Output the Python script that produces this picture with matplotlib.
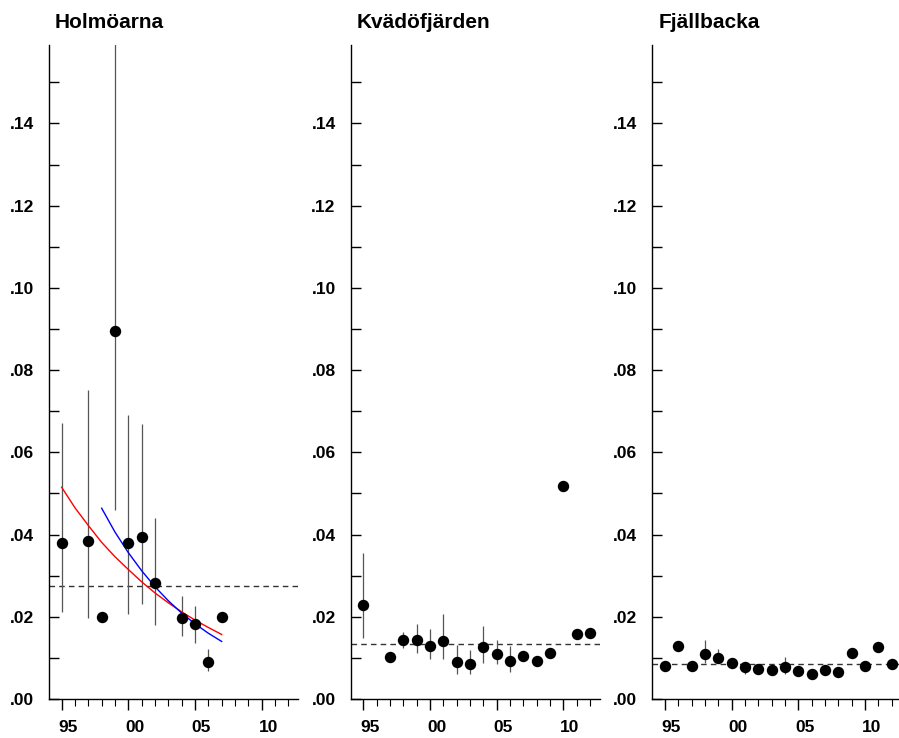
import numpy as np
import matplotlib.pyplot as plt
import matplotlib.transforms as mtransforms
from matplotlib.ticker import FixedLocator, FixedFormatter

plt.rcParams['font.family'] = ['Liberation Sans', 'DejaVu Sans']
plt.rcParams['font.weight'] = 'bold'

nan = np.nan

# Holmöarna
holm_years = [1995, 1997, 1998, 1999, 2000, 2001, 2002, 2004, 2005, 2006, 2007]
holm_vals = [0.0379, 0.0385, 0.0200, 0.0895, 0.0379, 0.0394, 0.0281, 0.0196, 0.0183, 0.0090, 0.0199]
holm_lo = [0.0211, 0.0196, nan, 0.0460, 0.0207, 0.0231, 0.0179, 0.0153, 0.0135, 0.0067, nan]
holm_hi = [0.0672, 0.0752, nan, 0.1700, 0.0690, 0.0670, 0.0440, 0.0251, 0.0225, 0.0122, nan]
holm_mean = 0.0276

# fitted trends
red_years = list(range(1995, 2008))
red_vals = [0.0515, 0.0465, 0.0422, 0.0381, 0.0346, 0.0315, 0.0285,
            0.0258, 0.0234, 0.0212, 0.0192, 0.0174, 0.0157]
blue_years = list(range(1998, 2008))
blue_vals = [0.0464, 0.0406, 0.0356, 0.0312, 0.0273, 0.0239, 0.0209,
             0.0183, 0.0160, 0.0140]

# Kvädöfjärden
kvad_years = [1995, 1997, 1998, 1999, 2000, 2001, 2002, 2003, 2004, 2005,
              2006, 2007, 2008, 2009, 2010, 2011, 2012]
kvad_vals = [0.0229, 0.0101, 0.0143, 0.0144, 0.0130, 0.0142, 0.0090, 0.0086, 0.0126, 0.0110,
             0.0093, 0.0105, 0.0093, 0.0112, 0.0517, 0.0158, 0.0160]
kvad_lo = [0.0148, nan, 0.0123, 0.0111, 0.0097, 0.0097, 0.0061, 0.0060, 0.0088, 0.0084,
           0.0065, nan, nan, nan, nan, nan, nan]
kvad_hi = [0.0356, nan, 0.0164, 0.0183, 0.0170, 0.0207, 0.0132, 0.0119, 0.0178, 0.0143,
           0.0130, nan, nan, nan, nan, nan, nan]
kvad_mean = 0.0133

# Fjällbacka
fjal_years = list(range(1995, 2013))
fjal_vals = [0.0081, 0.0128, 0.0081, 0.0110, 0.0099, 0.0088, 0.0077, 0.0072, 0.0071,
             0.0079, 0.0067, 0.0061, 0.0071, 0.0066, 0.0111, 0.0081, 0.0127, 0.0086]
fjal_lo = [nan, nan, nan, 0.0087, 0.0087, nan, 0.0060, nan, nan,
           0.0062, nan, nan, nan, nan, nan, nan, nan, nan]
fjal_hi = [nan, nan, nan, 0.0144, 0.0122, nan, 0.0091, nan, nan,
           0.0101, nan, nan, nan, nan, nan, nan, nan, nan]
fjal_mean = 0.0085

panels = [
    ('Holmöarna', holm_years, holm_vals, holm_lo, holm_hi, holm_mean),
    ('Kvädöfjärden', kvad_years, kvad_vals, kvad_lo, kvad_hi, kvad_mean),
    ('Fjällbacka', fjal_years, fjal_vals, fjal_lo, fjal_hi, fjal_mean),
]

W, H = 899, 738
fig = plt.figure(figsize=(W / 100, H / 100), dpi=100)

lefts = [49, 350.7, 652.3]
ax_w = 249.3
ax_top, ax_bot = 45.3, 699

for i, (name, yrs, vals, lo, hi, mean) in enumerate(panels):
    ax = fig.add_axes([lefts[i] / W, (H - ax_bot) / H, ax_w / W, (ax_bot - ax_top) / H])
    ax.set_xlim(1994.05, 2012.75)
    ax.set_ylim(0, 0.159)

    yrs = np.array(yrs)
    lo = np.array(lo)
    hi = np.array(hi)
    ok = ~np.isnan(lo)
    ax.vlines(yrs[ok], lo[ok], hi[ok], color='#555555', lw=0.9, zorder=2)
    ax.axhline(mean, color='#333333', lw=1.0, ls=(0, (4, 3)), zorder=1)
    if i == 0:
        ax.plot(red_years, red_vals, color='red', lw=1.0, zorder=3)
        ax.plot(blue_years, blue_vals, color='blue', lw=1.0, zorder=3)
    ax.plot(yrs, vals, 'o', color='black', ms=7.2, zorder=4)

    for s in ['top', 'right']:
        ax.spines[s].set_visible(False)
    for s in ['left', 'bottom']:
        ax.spines[s].set_linewidth(1.0)

    ax.yaxis.set_major_locator(FixedLocator(np.arange(0, 0.141, 0.02)))
    ax.yaxis.set_major_formatter(FixedFormatter(['.00', '.02', '.04', '.06', '.08', '.10', '.12', '.14']))
    ax.yaxis.set_minor_locator(FixedLocator(np.arange(0.01, 0.151, 0.02)))
    ax.xaxis.set_major_locator(FixedLocator([1995, 2000, 2005, 2010]))
    ax.xaxis.set_major_formatter(FixedFormatter(['95', '00', '05', '10']))
    ax.xaxis.set_minor_locator(FixedLocator(range(1995, 2013)))

    ax.tick_params(axis='y', which='both', direction='in', length=7, width=1.0,
                   pad=10.8, labelsize=12.5)
    ax.tick_params(axis='x', which='major', direction='out', length=8, width=1.0,
                   pad=7, labelsize=12.5)
    ax.tick_params(axis='x', which='minor', direction='out', length=5, width=0.8)

    shift = mtransforms.ScaledTranslation(6.5 / 100, 0, fig.dpi_scale_trans)
    for lab in ax.get_xticklabels():
        lab.set_transform(lab.get_transform() + shift)
        lab.set_fontweight('bold')
    for lab in ax.get_yticklabels():
        lab.set_fontweight('bold')

    fig.text((lefts[i] + 6) / W, 1 - 23 / H, name, fontsize=15, fontweight='bold',
             ha='left', va='center')

fig.savefig('out.png', dpi=100)
